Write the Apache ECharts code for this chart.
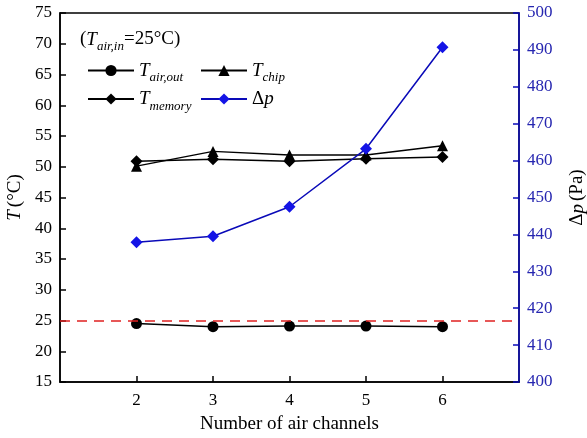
<!DOCTYPE html>
<html lang="en">
<head>
    <meta charset="UTF-8">
    <title>Number of air channels</title>
    <script src="https://cdn.jsdelivr.net/npm/echarts@6/dist/echarts.min.js"></script>
    <style>
        html, body { margin: 0; padding: 0; background: #fff; }
        #chart { width: 587px; height: 438px; }
    </style>
</head>
<body>
    <div id="chart"></div>
    <script>
        var channels = [2, 3, 4, 5, 6];
        var tAirOut = [24.5, 24.0, 24.1, 24.1, 24.0];
        var tChip = [50.1, 52.5, 51.9, 51.9, 53.4];
        var tMemory = [50.9, 51.2, 50.9, 51.3, 51.6];
        var deltaP = [437.9, 439.5, 447.5, 463.2, 490.7];
        var tAirIn = 25;

        var FONT = '"Liberation Serif", "Times New Roman", serif';
        var BLUE = '#0a0ab8';

        function pairs(ys) {
            var out = [];
            for (var i = 0; i < channels.length; i++) out.push([channels[i], ys[i]]);
            return out;
        }

        var richText = {
            it: { fontFamily: FONT, fontStyle: 'italic', fontSize: 19, color: '#000' },
            sub: { fontFamily: FONT, fontStyle: 'italic', fontSize: 13, color: '#000', verticalAlign: 'bottom', lineHeight: 28 },
            n: { fontFamily: FONT, fontSize: 19, color: '#000' }
        };

        var legendNames = {
            'Tair,out': '{it|T}{sub|air,out}',
            'Tchip': '{it|T}{sub|chip}',
            'Tmemory': '{it|T}{sub|memory}',
            'dp': '{n|Δ}{it|p}'
        };

        var chart = echarts.init(document.getElementById('chart'));
        var option = {
            backgroundColor: '#fff',
            animation: false,
            textStyle: { fontFamily: FONT },
            grid: {
                left: 60, right: 68, top: 13, bottom: 56,
                outerBoundsMode: 'none',
                containLabel: false,
                show: true, borderColor: '#000', borderWidth: 1.5
            },
            graphic: [{
                type: 'text',
                left: 80, top: 30,
                style: {
                    text: '{n|(}{it|T}{sub|air,in}{n|=25°C)}',
                    rich: richText
                }
            }],
            legend: [
                {
                    orient: 'vertical',
                    left: 82, top: 56,
                    itemWidth: 46, itemHeight: 14, itemGap: 5,
                    data: ['Tair,out', 'Tmemory'],
                    formatter: function (name) { return legendNames[name]; },
                    textStyle: { rich: richText }
                },
                {
                    orient: 'vertical',
                    left: 195, top: 56,
                    itemWidth: 46, itemHeight: 14, itemGap: 5,
                    data: ['Tchip', 'dp'],
                    formatter: function (name) { return legendNames[name]; },
                    textStyle: { rich: richText }
                }
            ],
            xAxis: {
                type: 'value',
                min: 1, max: 7, interval: 1,
                name: 'Number of air channels',
                nameLocation: 'middle',
                nameGap: 33,
                nameTextStyle: { fontFamily: FONT, fontSize: 19, color: '#000' },
                axisLine: { lineStyle: { color: '#000', width: 1.5 } },
                axisTick: { inside: true, length: 6, customValues: channels, lineStyle: { color: '#000', width: 1.5 } },
                axisLabel: { customValues: channels, fontFamily: FONT, fontSize: 17, color: '#000', margin: 10 },
                splitLine: { show: false }
            },
            yAxis: [
                {
                    type: 'value',
                    min: 15, max: 75, interval: 5,
                    name: '{it|T} {n|(°C)}',
                    nameLocation: 'middle',
                    nameGap: 33,
                    nameTextStyle: { rich: richText },
                    axisLine: { show: true, lineStyle: { color: '#000', width: 1.5 } },
                    axisTick: { show: true, inside: true, length: 6, lineStyle: { color: '#000', width: 1.5 } },
                    axisLabel: { fontFamily: FONT, fontSize: 17, color: '#000', margin: 8 },
                    splitLine: { show: false }
                },
                {
                    type: 'value',
                    min: 400, max: 500, interval: 10,
                    position: 'right',
                    name: '{n|Δ}{it|p} {n|(Pa)}',
                    nameLocation: 'middle',
                    nameGap: 49,
                    nameRotate: 90,
                    nameTextStyle: { rich: richText },
                    axisLine: { show: true, lineStyle: { color: BLUE, width: 1.5 } },
                    axisTick: { show: true, inside: true, length: 6, lineStyle: { color: BLUE, width: 1.5 } },
                    axisLabel: { fontFamily: FONT, fontSize: 17, color: '#2626b0', margin: 8 },
                    splitLine: { show: false }
                }
            ],
            series: [
                {
                    name: 'Tair,out',
                    type: 'line',
                    yAxisIndex: 0,
                    data: pairs(tAirOut),
                    symbol: 'circle', symbolSize: 11,
                    itemStyle: { color: '#000' },
                    lineStyle: { color: '#000', width: 1.5 },
                    markLine: {
                        silent: true,
                        symbol: ['none', 'none'],
                        label: { show: false },
                        lineStyle: { color: '#e02020', type: [10, 7], width: 1.6 },
                        data: [{ yAxis: tAirIn }]
                    }
                },
                {
                    name: 'Tchip',
                    type: 'line',
                    yAxisIndex: 0,
                    data: pairs(tChip),
                    symbol: 'triangle', symbolSize: 11,
                    itemStyle: { color: '#000' },
                    lineStyle: { color: '#000', width: 1.5 }
                },
                {
                    name: 'Tmemory',
                    type: 'line',
                    yAxisIndex: 0,
                    data: pairs(tMemory),
                    symbol: 'diamond', symbolSize: 12,
                    itemStyle: { color: '#000' },
                    lineStyle: { color: '#000', width: 1.5 }
                },
                {
                    name: 'dp',
                    type: 'line',
                    yAxisIndex: 1,
                    data: pairs(deltaP),
                    symbol: 'diamond', symbolSize: 12,
                    itemStyle: { color: '#1414e6' },
                    lineStyle: { color: '#0a0ab8', width: 1.5 }
                }
            ]
        };
        chart.setOption(option);
    </script>
</body>
</html>
